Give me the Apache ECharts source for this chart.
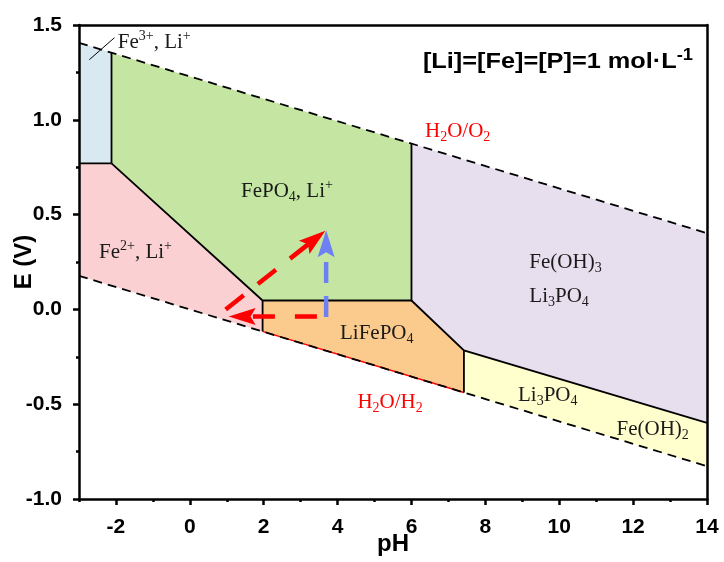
<!DOCTYPE html>
<html><head><meta charset="utf-8">
<script src="https://cdn.jsdelivr.net/npm/echarts@6/dist/echarts.min.js"></script>
<style>html,body{margin:0;padding:0;background:#fff}#c{width:724px;height:562px}</style>
</head><body><div id="c"></div>
<script>
// ---------------- data ----------------
const xMajorTicks = [-2, 0, 2, 4, 6, 8, 10, 12, 14];
const xMinorTicks = [-3, -1, 1, 3, 5, 7, 9, 11, 13];
const yMajorTicks = [-1.0, -0.5, 0.0, 0.5, 1.0, 1.5];

// water stability lines (pH, E)
const waterO2 = [[-3, 1.406], [14, 0.402]];
const waterH2 = [[-3, 0.177], [14, -0.827]];
const redUnderline = [[1.97, -0.116], [7.42, -0.438]];

// stability regions (pH, E)
const regionFe3 = [[-3, 0.77], [-2.12, 0.77], [-2.12, 1.354], [-3, 1.406]];
const regionFe2 = [[-3, 0.177], [-3, 0.77], [-2.12, 0.77], [1.97, 0.047], [1.97, -0.116]];
const regionFePO4 = [[-2.12, 0.77], [-2.12, 1.354], [6, 0.874], [6, 0.047], [1.97, 0.047]];
const regionLiFePO4 = [[1.97, 0.047], [6, 0.047], [7.42, -0.216], [7.42, -0.438], [1.97, -0.116]];
const regionFeOH3 = [[6, 0.874], [14, 0.402], [14, -0.598], [7.42, -0.216], [6, 0.047]];
const regionFeOH2 = [[7.42, -0.216], [14, -0.598], [14, -0.827], [7.42, -0.438]];

// region boundaries (pH, E)
const boundary1 = [[-3, 0.77], [-2.12, 0.77]];
const boundary2 = [[-2.12, 0.77], [-2.12, 1.354]];
const boundary3 = [[-2.12, 0.77], [1.97, 0.047], [6, 0.047], [6, 0.874]];
const boundary4 = [[1.97, 0.047], [1.97, -0.116]];
const boundary5 = [[6, 0.047], [7.42, -0.216], [14, -0.598]];
const boundary6 = [[7.42, -0.216], [7.42, -0.438]];
const leaderLine = [[-2.72, 1.317], [-2.04, 1.433]];

// arrows (start, tip)
const arrowRedDiag = [[0.97, 0.0], [3.67, 0.415]];
const arrowRedLeft = [[3.44, -0.037], [1.05, -0.037]];
const arrowBlueUp = [[3.69, -0.04], [3.69, 0.417]];

// labels
const titleText = '{a|[Li]=[Fe]=[P]=1 mol·L}{b|-1}';
const labelTexts = [
  '{n|Fe}{sup|3+}{n|, Li}{sup|+}',
  '{n|FePO}{sub|4}{n|, Li}{sup|+}',
  '{n|Fe}{sup|2+}{n|, Li}{sup|+}',
  '{n|Fe(OH)}{sub|3}',
  '{n|Li}{sub|3}{n|PO}{sub|4}',
  '{n|LiFePO}{sub|4}',
  '{n|Li}{sub|3}{n|PO}{sub|4}',
  '{n|Fe(OH)}{sub|2}',
  '{r|H}{rs|2}{r|O/O}{rs|2}',
  '{r|H}{rs|2}{r|O/H}{rs|2}'
];
const labelAnchors = [
  [-1.95, 1.408], [2.63, 0.622], [-1.47, 0.302], [9.19, 0.248], [9.19, 0.069],
  [5.06, -0.127], [9.69, -0.454], [12.53, -0.632], [7.25, 0.939], [5.42, -0.489]
];
const labelAligns = ['left', 'center', 'center', 'left', 'left', 'center', 'center', 'center', 'center', 'center'];

// ---------------- styling ----------------
const regions = [regionFe3, regionFe2, regionFePO4, regionLiFePO4, regionFeOH3, regionFeOH2];
const regionColors = ['#d8e9f2', '#fbd0d2', '#c4e6a2', '#fbcb8d', '#e7deee', '#ffffcd'];
const boundaries = [boundary1, boundary2, boundary3, boundary4, boundary5, boundary6];
const arrows = [arrowRedDiag, arrowRedLeft, arrowBlueUp];
const arrowColors = ['#ff0000', '#ff0000', '#6f80f3'];
const arrowDash = [[23, 18], [22, 20], [21, 13]];

const SERIF = 'Liberation Serif, Times New Roman, serif';
const SANS = 'Liberation Sans, Arial, sans-serif';
const fs = 21;
const INK = '#1a1a1a', RED = '#ff0000';
const rich = {
  n: {fontFamily: SERIF, fontSize: fs, fill: INK, color: INK, lineHeight: 26},
  sup: {fontFamily: SERIF, fontSize: 14, fill: INK, color: INK, lineHeight: 13, verticalAlign: 'top'},
  sub: {fontFamily: SERIF, fontSize: 14, fill: INK, color: INK, lineHeight: 13, verticalAlign: 'bottom'},
  r: {fontFamily: SERIF, fontSize: fs, fill: RED, color: RED, lineHeight: 26},
  rs: {fontFamily: SERIF, fontSize: 14, fill: RED, color: RED, lineHeight: 13, verticalAlign: 'bottom'}
};

const axisLineStyle = {color: '#000', width: 2.5};
const tickLabel = {fontFamily: SANS, fontWeight: 'bold', fontSize: 21, color: '#000'};

const chart = echarts.init(document.getElementById('c'), null, {renderer: 'canvas'});

function polySeries() {
  return {
    type: 'custom', coordinateSystem: 'cartesian2d', silent: true, z: 1,
    data: regions.map((r, i) => [i]),
    renderItem: (params, api) => {
      const pts = regions[params.dataIndex].map(p => api.coord(p));
      return {type: 'polygon', shape: {points: pts}, style: {fill: regionColors[params.dataIndex]}};
    }
  };
}

function boundarySeries() {
  return {
    type: 'custom', coordinateSystem: 'cartesian2d', silent: true, z: 3,
    data: boundaries.map((b, i) => [i]),
    renderItem: (params, api) => {
      const pts = boundaries[params.dataIndex].map(p => api.coord(p));
      return {type: 'polyline', shape: {points: pts}, style: {stroke: '#000', lineWidth: 1.8, fill: null}};
    }
  };
}

function arrowSeries() {
  return {
    type: 'custom', coordinateSystem: 'cartesian2d', silent: true, z: 5,
    data: arrows.map((a, i) => [i]),
    renderItem: (params, api) => {
      const i = params.dataIndex;
      const a = api.coord(arrows[i][0]);
      const b = api.coord(arrows[i][1]);
      const dx = b[0] - a[0], dy = b[1] - a[1];
      const len = Math.sqrt(dx * dx + dy * dy);
      const ux = dx / len, uy = dy / len;
      const hl = 27, hw = 8.5;
      const base = [b[0] - ux * hl, b[1] - uy * hl];
      const notch = [b[0] - ux * (hl - 5), b[1] - uy * (hl - 5)];
      const lineEnd = [b[0] - ux * (hl - 6), b[1] - uy * (hl - 6)];
      const px = -uy, py = ux;
      const color = arrowColors[i];
      return {
        type: 'group',
        children: [
          {type: 'line', shape: {x1: a[0], y1: a[1], x2: lineEnd[0], y2: lineEnd[1]},
           style: {stroke: color, lineWidth: 4.5, lineDash: arrowDash[i]}},
          {type: 'polygon', shape: {points: [
            b, [base[0] + px * hw, base[1] + py * hw], notch, [base[0] - px * hw, base[1] - py * hw]
          ]}, style: {fill: color}}
        ]
      };
    }
  };
}

function labelSeries() {
  return {
    type: 'custom', coordinateSystem: 'cartesian2d', silent: true, z: 6,
    data: labelAnchors.map((p, i) => [i]),
    renderItem: (params, api) => {
      const i = params.dataIndex;
      const c = api.coord(labelAnchors[i]);
      return {
        type: 'text', x: c[0], y: c[1],
        style: {text: labelTexts[i], rich: rich, align: labelAligns[i], verticalAlign: 'middle',
                fontFamily: SERIF, fontSize: fs, fill: INK}
      };
    }
  };
}

const option = {
  animation: false,
  backgroundColor: '#fff',
  grid: {left: 79, right: 17, top: 25, bottom: 63, containLabel: false, outerBoundsMode: 'none'},
  graphic: [{
    type: 'text', x: 693, y: 62, scaleX: 1.15, z: 20, silent: true,
    style: {
      text: titleText, align: 'right', verticalAlign: 'middle',
      rich: {
        a: {fontFamily: SANS, fontWeight: 'bold', fontSize: 22, fill: '#000', lineHeight: 28},
        b: {fontFamily: SANS, fontWeight: 'bold', fontSize: 16, fill: '#000', lineHeight: 14, verticalAlign: 'top'}
      }
    }
  }],
  xAxis: [
    {type: 'value', min: -3, max: 14, position: 'bottom', z: 10,
     axisLine: {onZero: false, lineStyle: axisLineStyle},
     axisTick: {customValues: xMajorTicks, length: 6, lineStyle: axisLineStyle},
     axisLabel: Object.assign({customValues: xMajorTicks, margin: 18}, tickLabel),
     splitLine: {show: false},
     name: 'pH', nameLocation: 'middle', nameGap: 33, nameMoveOverlap: false,
     nameTextStyle: {fontFamily: SANS, fontWeight: 'bold', fontSize: 24, color: '#000'}},
    {type: 'value', min: -3, max: 14, position: 'bottom', z: 10,
     axisLine: {show: false, onZero: false},
     axisTick: {customValues: xMinorTicks, length: 3, lineStyle: axisLineStyle},
     axisLabel: {show: false}, splitLine: {show: false}},
    {type: 'value', min: -3, max: 14, position: 'top', z: 10,
     axisLine: {onZero: false, lineStyle: axisLineStyle},
     axisTick: {show: false}, axisLabel: {show: false}, splitLine: {show: false}}
  ],
  yAxis: [
    {type: 'value', min: -1, max: 1.5, interval: 0.5, position: 'left', z: 10,
     axisLine: {onZero: false, lineStyle: axisLineStyle},
     axisTick: {length: 6, lineStyle: axisLineStyle},
     minorTick: {show: true, splitNumber: 2, length: 3, lineStyle: axisLineStyle},
     axisLabel: Object.assign({margin: 17, formatter: v => v.toFixed(1)}, tickLabel),
     splitLine: {show: false},
     name: 'E (V)', nameLocation: 'middle', nameGap: 43, nameMoveOverlap: false,
     nameTextStyle: {fontFamily: SANS, fontWeight: 'bold', fontSize: 24, color: '#000'}},
    {type: 'value', min: -1, max: 1.5, position: 'right', z: 10,
     axisLine: {onZero: false, lineStyle: axisLineStyle},
     axisTick: {show: false}, axisLabel: {show: false}, splitLine: {show: false}}
  ],
  series: [
    polySeries(),
    {type: 'line', data: redUnderline, showSymbol: false, silent: true, z: 2,
     lineStyle: {color: '#ff0000', width: 1.5}},
    boundarySeries(),
    {type: 'line', data: leaderLine, showSymbol: false, silent: true, z: 3,
     lineStyle: {color: '#000', width: 1}},
    {type: 'line', data: waterO2, showSymbol: false, silent: true, z: 4,
     lineStyle: {color: '#000', width: 1.8, type: [9, 6]}},
    {type: 'line', data: waterH2, showSymbol: false, silent: true, z: 4,
     lineStyle: {color: '#000', width: 1.8, type: [9, 6]}},
    arrowSeries(),
    labelSeries()
  ]
};
chart.setOption(option);
</script>
</body></html>
